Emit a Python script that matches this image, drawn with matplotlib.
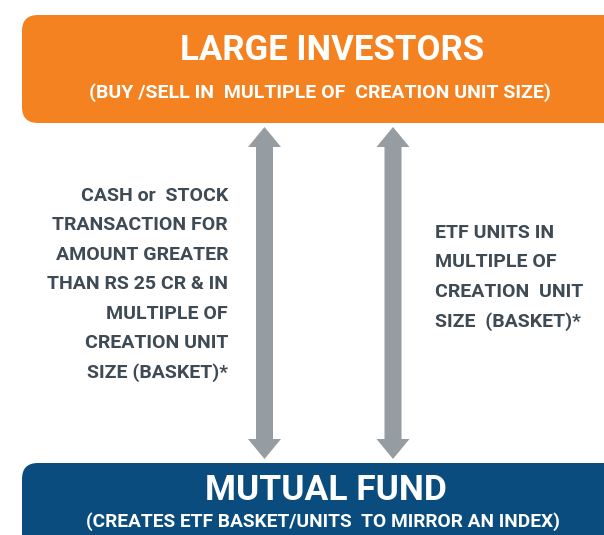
import matplotlib
matplotlib.use("Agg")
import matplotlib.pyplot as plt
from matplotlib.patches import FancyBboxPatch, Polygon
from matplotlib import font_manager

top_title = "LARGE INVESTORS"
top_sub = "(BUY /SELL IN  MULTIPLE OF  CREATION UNIT SIZE)"
bottom_title = "MUTUAL FUND"
bottom_sub = "(CREATES ETF BASKET/UNITS  TO MIRROR AN INDEX)"
left_lines = ["CASH or  STOCK", "TRANSACTION FOR", "AMOUNT GREATER",
              "THAN RS 25 CR & IN", "MULTIPLE OF", "CREATION UNIT", "SIZE (BASKET)*"]
right_lines = ["ETF UNITS IN", "MULTIPLE OF", "CREATION  UNIT", "SIZE  (BASKET)*"]

names = {f.name for f in font_manager.fontManager.ttflist}
fam = "Liberation Sans Narrow" if "Liberation Sans Narrow" in names else "Roboto"
plt.rcParams['font.family'] = [fam, 'DejaVu Sans']

ORANGE = "#F48220"
BLUE = "#094C7D"
GRAY = "#959DA3"
TEXT = "#3E4A54"

fig = plt.figure(figsize=(6.04, 5.35), dpi=100)
ax = fig.add_axes([0, 0, 1, 1])
ax.set_xlim(0, 604)
ax.set_ylim(535, 0)
ax.axis("off")

ax.add_patch(FancyBboxPatch((22, 15), 620, 108, boxstyle="round,pad=0,rounding_size=16",
                            fc=ORANGE, ec="none"))
ax.add_patch(FancyBboxPatch((22, 463), 620, 120, boxstyle="round,pad=0,rounding_size=16",
                            fc=BLUE, ec="none"))

ax.text(332, 50, top_title, color="white", fontsize=25, fontweight="bold", ha="center", va="center")
ax.text(320, 93, top_sub, color="white", fontsize=14, fontweight="bold", ha="center", va="center")
ax.text(326, 490, bottom_title, color="white", fontsize=25.5, fontweight="bold", ha="center", va="center")
ax.text(323, 522, bottom_sub, color="white", fontsize=13.8, fontweight="bold", ha="center", va="center")

def darrow(cx, top, bot, hw=16.5, sw=8.5, hl=20):
    pts = [(cx, top), (cx + hw, top + hl), (cx + sw, top + hl), (cx + sw, bot - hl),
           (cx + hw, bot - hl), (cx, bot), (cx - hw, bot - hl), (cx - sw, bot - hl),
           (cx - sw, top + hl), (cx - hw, top + hl)]
    ax.add_patch(Polygon(pts, closed=True, fc=GRAY, ec="none"))

darrow(264.5, 127, 459)
darrow(393, 127, 459)

for i, s in enumerate(left_lines):
    ax.text(228, 196 + i * 29.4, s, color=TEXT, fontsize=14, fontweight="bold", ha="right", va="center")
for i, s in enumerate(right_lines):
    ax.text(435, 233 + i * 29.4, s, color=TEXT, fontsize=14, fontweight="bold", ha="left", va="center")

fig.savefig("out.png", dpi=100)
